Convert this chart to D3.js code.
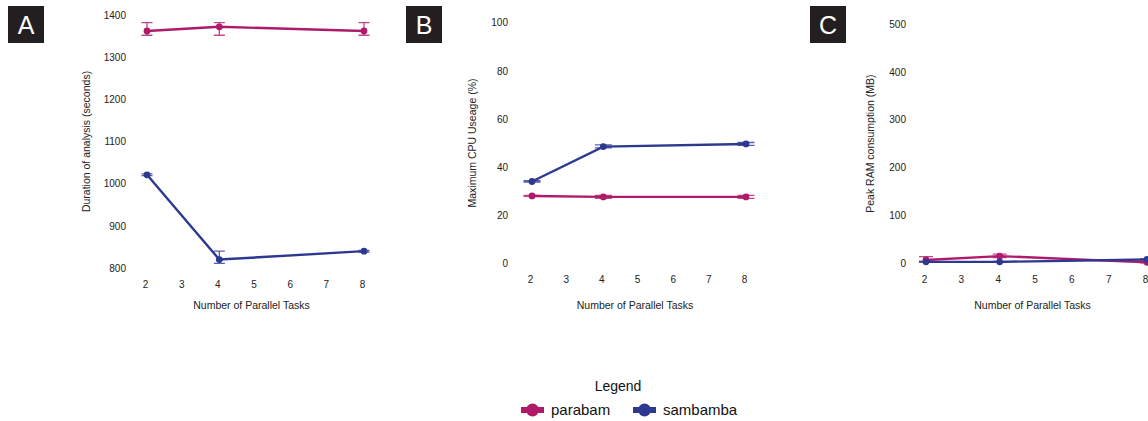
<!DOCTYPE html>
<html>
<head>
<meta charset="utf-8">
<script src="https://cdn.jsdelivr.net/npm/d3@7"></script>
<style>
  body { margin: 0; background: #fff; }
</style>
</head>
<body>
<div id="chart"></div>
<script>
// data
const tasks = [2, 4, 8];
const xTicks = [2, 3, 4, 5, 6, 7, 8];
const seriesNames = ["parabam", "sambamba"];
const colors = {parabam: "#b01a6b", sambamba: "#2d3891"};

// duration (seconds): mean, low, high
const durParabam = [1362, 1372, 1362];
const durParabamLo = [1352, 1352, 1352];
const durParabamHi = [1382, 1382, 1382];
const durSambamba = [1021, 820, 840];
const durSambambaLo = [1019, 811, 838];
const durSambambaHi = [1023, 840, 842];

// maximum CPU (%)
const cpuParabam = [28, 27.6, 27.6];
const cpuParabamLo = [27.8, 27, 27];
const cpuParabamHi = [28.2, 28.2, 28.2];
const cpuSambamba = [34, 48.5, 49.6];
const cpuSambambaLo = [33.7, 48, 49];
const cpuSambambaHi = [34.3, 49.2, 50.2];

// peak RAM (MB)
const ramParabam = [7, 15, 2];
const ramParabamLo = [4, 12, 1];
const ramParabamHi = [14, 19, 4];
const ramSambamba = [3, 3, 8];
const ramSambambaLo = [2, 2, 7];
const ramSambambaHi = [4, 4, 9];

const durTicks = [800, 900, 1000, 1100, 1200, 1300, 1400];
const cpuTicks = [0, 20, 40, 60, 80, 100];
const ramTicks = [0, 100, 200, 300, 400, 500];

const FONT = "Liberation Sans, Arial, Helvetica, sans-serif";
const W = 1148, H = 421;
const svg = d3.select("#chart").append("svg")
  .attr("width", W).attr("height", H).attr("font-family", FONT);

const panels = [
  {label: "A", box: 8, x0: 147, x1: 364, yTop: 15, yBot: 268, tickRight: 126, yTitleX: 90,
   domain: [800, 1400], ticks: durTicks, cap: 11,
   title: "Duration of analysis (seconds)",
   data: {parabam: [durParabam, durParabamLo, durParabamHi], sambamba: [durSambamba, durSambambaLo, durSambambaHi]}},
  {label: "B", box: 406, x0: 532, x1: 746, yTop: 22.7, yBot: 263.3, tickRight: 508, yTitleX: 476,
   domain: [0, 100], ticks: cpuTicks, cap: 17,
   title: "Maximum CPU Useage (%)",
   data: {parabam: [cpuParabam, cpuParabamLo, cpuParabamHi], sambamba: [cpuSambamba, cpuSambambaLo, cpuSambambaHi]}},
  {label: "C", box: 810, x0: 926, x1: 1147, yTop: 24, yBot: 263.3, tickRight: 906, yTitleX: 874,
   domain: [0, 500], ticks: ramTicks, cap: 14,
   title: "Peak RAM consumption (MB)",
   data: {parabam: [ramParabam, ramParabamLo, ramParabamHi], sambamba: [ramSambamba, ramSambambaLo, ramSambambaHi]}}
];

panels.forEach(p => {
  const g = svg.append("g");
  const x = d3.scaleLinear().domain([2, 8]).range([p.x0, p.x1]);
  const y = d3.scaleLinear().domain(p.domain).range([p.yBot, p.yTop]);

  // panel tag
  g.append("rect").attr("x", p.box).attr("y", 6).attr("width", 36).attr("height", 37).attr("fill", "#231f20");
  g.append("text").attr("x", p.box + 18).attr("y", 34).attr("text-anchor", "middle")
    .attr("fill", "#fff").attr("font-size", 25).text(p.label);

  // y axis (no domain line, no tick marks)
  const yAxis = g.append("g").attr("transform", `translate(${p.tickRight},0)`)
    .call(d3.axisLeft(y).tickValues(p.ticks).tickFormat(d3.format("d")).tickSize(0).tickPadding(0))
    .attr("font-family", FONT).attr("font-size", 10);
  yAxis.select(".domain").remove();
  yAxis.selectAll("text").attr("fill", "#222");

  // x axis
  const xAxis = g.append("g").attr("transform", `translate(-2,${p.yBot + 13})`)
    .call(d3.axisBottom(x).tickValues(xTicks).tickFormat(d3.format("d")).tickSize(0).tickPadding(0))
    .attr("font-family", FONT).attr("font-size", 10);
  xAxis.select(".domain").remove();
  xAxis.selectAll("text").attr("fill", "#222");

  // titles
  g.append("text").attr("x", (p.x0 + p.x1) / 2 - 4).attr("y", 309).attr("text-anchor", "middle")
    .attr("font-size", 10.5).attr("fill", "#222").text("Number of Parallel Tasks");
  g.append("text").attr("transform", `translate(${p.yTitleX},${(p.yTop + p.yBot) / 2}) rotate(-90)`)
    .attr("text-anchor", "middle").attr("font-size", 10.5).attr("fill", "#222").text(p.title);

  seriesNames.forEach(name => {
    const [mean, lo, hi] = p.data[name];
    const rows = tasks.map((t, i) => ({t, m: mean[i], lo: lo[i], hi: hi[i]}));
    const c = colors[name];
    const s = g.append("g");

    // error bars
    s.selectAll(".eb").data(rows).enter().append("path")
      .attr("fill", "none").attr("stroke", c).attr("stroke-width", 1.3).attr("opacity", 0.8)
      .attr("d", d => {
        const cx = x(d.t), h = p.cap / 2;
        return `M${cx - h},${y(d.hi)}H${cx + h}M${cx},${y(d.hi)}V${y(d.lo)}M${cx - h},${y(d.lo)}H${cx + h}`;
      });

    s.append("path").datum(rows)
      .attr("fill", "none").attr("stroke", c).attr("stroke-width", 2.4)
      .attr("d", d3.line().x(d => x(d.t)).y(d => y(d.m)));

    s.selectAll(".pt").data(rows).enter().append("circle")
      .attr("cx", d => x(d.t)).attr("cy", d => y(d.m)).attr("r", 3.4).attr("fill", c);
  });
});

// legend
const lg = svg.append("g");
lg.append("text").attr("x", 618).attr("y", 391).attr("text-anchor", "middle")
  .attr("font-size", 14).attr("fill", "#111").text("Legend");
const legendX = [521, 633];
seriesNames.forEach((name, i) => {
  const lx = legendX[i];
  lg.append("line").attr("x1", lx).attr("x2", lx + 23).attr("y1", 410).attr("y2", 410)
    .attr("stroke", colors[name]).attr("stroke-width", 6);
  lg.append("circle").attr("cx", lx + 11.5).attr("cy", 410).attr("r", 6.5).attr("fill", colors[name]);
  lg.append("text").attr("x", lx + 30).attr("y", 415).attr("font-size", 15).attr("fill", "#111").text(name);
});
</script>
</body>
</html>
